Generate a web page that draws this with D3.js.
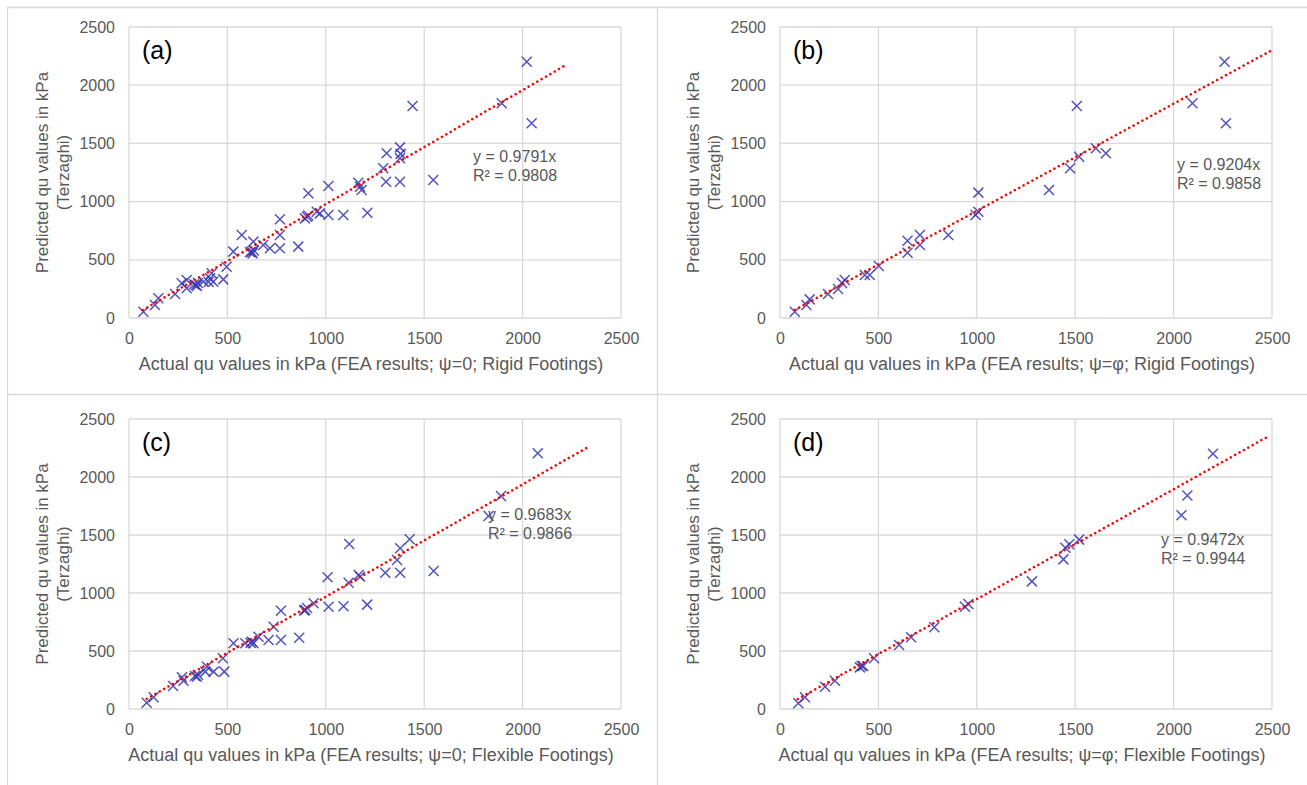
<!DOCTYPE html>
<html>
<head>
<meta charset="utf-8">
<script src="https://cdn.jsdelivr.net/npm/d3@7"></script>
<style>
  body { margin: 0; background: #fff; }
  text { font-family: "Liberation Sans", Arial, sans-serif; }
</style>
</head>
<body>
<svg id="chart" width="1307" height="785"></svg>
<script>
// Data
const tickValues = [0, 500, 1000, 1500, 2000, 2500];
const panelLabels = ["(a)", "(b)", "(c)", "(d)"];
const xTitles = [
  "Actual qu values in kPa (FEA results; \u03c8=0; Rigid Footings)",
  "Actual qu values in kPa (FEA results; \u03c8=\u03c6; Rigid Footings)",
  "Actual qu values in kPa (FEA results; \u03c8=0; Flexible Footings)",
  "Actual qu values in kPa (FEA results; \u03c8=\u03c6; Flexible Footings)"
];
const yTitle = ["Predicted qu values in kPa", "(Terzaghi)"];
const slopes = [0.9791, 0.9204, 0.9683, 0.9472];
const rSquared = ["0.9808", "0.9858", "0.9866", "0.9944"];
const trendFrom = [70, 75, 90, 90];
const trendTo = [2207, 2500, 2330, 2480];

const pointsA = [[73,54],[132,112],[149,169],[234,206],[268,298],[293,326],[293,255],[330,290],[340,283],[350,300],[345,275],[378,312],[405,310],[412,341],[420,384],[428,312],[479,332],[496,441],[530,570],[573,713],[615,565],[623,570],[628,555],[632,656],[635,580],[682,627],[716,599],[767,848],[767,713],[767,599],[860,613],[894,856],[905,870],[911,880],[911,1071],[954,913],[970,899],[1013,885],[1013,1134],[1089,885],[1165,1162],[1174,1128],[1182,1100],[1211,905],[1292,1286],[1306,1171],[1309,1415],[1377,1466],[1380,1410],[1377,1372],[1377,1171],[1441,1821],[1546,1186],[1894,1845],[2021,2202],[2046,1673]];
const pointsB = [[75,54],[134,112],[151,160],[244,206],[295,249],[315,300],[329,326],[431,369],[456,369],[502,447],[648,664],[648,561],[711,713],[711,627],[855,713],[994,885],[1008,913],[1008,1077],[1367,1100],[1474,1286],[1508,1821],[1520,1386],[1605,1458],[1656,1415],[2096,1845],[2259,2202],[2266,1673]];
const pointsC = [[90,54],[125,101],[224,198],[269,273],[277,244],[335,285],[345,278],[350,295],[388,322],[396,365],[430,322],[477,437],[484,322],[531,566],[591,566],[618,570],[625,580],[633,566],[658,623],[709,595],[735,709],[772,847],[772,595],[865,615],[890,850],[896,853],[905,870],[938,911],[1009,1135],[1014,882],[1090,885],[1116,1089],[1119,1422],[1167,1155],[1174,1140],[1210,900],[1302,1175],[1362,1284],[1378,1385],[1378,1175],[1426,1463],[1548,1190],[1827,1664],[1890,1836],[2077,2204]];
const pointsD = [[93,49],[127,101],[229,192],[279,244],[406,359],[415,370],[423,371],[478,437],[605,552],[666,618],[784,704],[940,882],[957,905],[1280,1100],[1440,1290],[1450,1390],[1470,1420],[1520,1460],[2040,1670],[2070,1840],[2200,2200]];
const allPoints = [pointsA, pointsB, pointsC, pointsD];

// Layout of the four plot areas
const plots = [
  { left: 129, top: 27, w: 492, h: 291, eq: [473, 162] },
  { left: 780, top: 27, w: 492, h: 291, eq: [1177, 170] },
  { left: 129, top: 419, w: 492, h: 290, eq: [488, 520] },
  { left: 780, top: 419, w: 492, h: 290, eq: [1161, 545] }
];

const svg = d3.select("#chart");
const gridColor = "#d9d9d9";
const textColor = "#595959";
const markColor = "#3535b0";

// Outer frames
svg.append("path")
  .attr("d", "M7.5,785V7.5H1307M657.5,7.5V785M7.5,394.5H1307")
  .attr("fill", "none")
  .attr("stroke", gridColor)
  .attr("stroke-width", 1.3);

plots.forEach((p, i) => {
  const x = d3.scaleLinear().domain([0, 2500]).range([p.left, p.left + p.w]);
  const y = d3.scaleLinear().domain([0, 2500]).range([p.top + p.h, p.top]);
  const g = svg.append("g");

  // Grid
  const grid = g.append("g").attr("stroke", gridColor).attr("stroke-width", 1.3);
  grid.selectAll(".vg").data(tickValues).enter().append("line")
    .attr("x1", d => x(d)).attr("x2", d => x(d))
    .attr("y1", p.top).attr("y2", p.top + p.h);
  grid.selectAll(".hg").data(tickValues).enter().append("line")
    .attr("x1", p.left).attr("x2", p.left + p.w)
    .attr("y1", d => y(d)).attr("y2", d => y(d));

  // Axes (labels only, no tick marks)
  const fmt = d3.format("d");
  const xAxis = g.append("g")
    .attr("transform", "translate(0," + (p.top + p.h) + ")")
    .call(d3.axisBottom(x).tickValues(tickValues).tickFormat(fmt).tickSize(0).tickPadding(15));
  const yAxis = g.append("g")
    .attr("transform", "translate(" + p.left + ",0)")
    .call(d3.axisLeft(y).tickValues(tickValues).tickFormat(fmt).tickSize(0).tickPadding(14));
  [xAxis, yAxis].forEach(a => {
    a.select(".domain").remove();
    a.selectAll("text")
      .attr("fill", textColor)
      .style("font-size", "16px")
      .style("font-family", "'Liberation Sans', Arial, sans-serif");
  });

  // Axis titles
  g.append("text")
    .attr("x", p.left + p.w / 2 - 4)
    .attr("y", p.top + p.h + 52)
    .attr("text-anchor", "middle")
    .attr("fill", textColor)
    .style("font-size", "18px")
    .text(xTitles[i]);
  const yt = g.append("text")
    .attr("transform", "translate(" + (p.left - 81) + "," + (p.top + p.h / 2) + ") rotate(-90)")
    .attr("text-anchor", "middle")
    .attr("fill", textColor)
    .style("font-size", "17px");
  yt.append("tspan").attr("x", 0).attr("y", 0).text(yTitle[0]);
  yt.append("tspan").attr("x", 0).attr("y", 21).text(yTitle[1]);

  // Panel label
  g.append("text")
    .attr("x", p.left + 13)
    .attr("y", p.top + 32)
    .attr("fill", "#000")
    .style("font-size", "25px")
    .text(panelLabels[i]);

  // Data markers
  g.selectAll(".pt").data(allPoints[i]).enter().append("path")
    .attr("d", "M-5,-5L5,5M-5,5L5,-5")
    .attr("transform", d => "translate(" + x(d[0]) + "," + y(d[1]) + ")")
    .attr("stroke", markColor)
    .attr("stroke-opacity", 0.85)
    .attr("stroke-width", 1.5)
    .attr("fill", "none");

  // Trendline through origin
  const t0 = trendFrom[i], t1 = trendTo[i];
  g.append("line")
    .attr("x1", x(t0)).attr("y1", y(t0 * slopes[i]))
    .attr("x2", x(t1)).attr("y2", y(t1 * slopes[i]))
    .attr("stroke", "#ff0000")
    .attr("stroke-width", 2.6)
    .attr("stroke-linecap", "round")
    .attr("stroke-dasharray", "0.01 5");

  // Equation text
  const eq = g.append("text")
    .attr("fill", textColor)
    .style("font-size", "16px");
  eq.append("tspan").attr("x", p.eq[0]).attr("y", p.eq[1]).text("y = " + slopes[i].toFixed(4) + "x");
  eq.append("tspan").attr("x", p.eq[0]).attr("y", p.eq[1] + 19).text("R\u00b2 = " + rSquared[i]);
});
</script>
</body>
</html>
